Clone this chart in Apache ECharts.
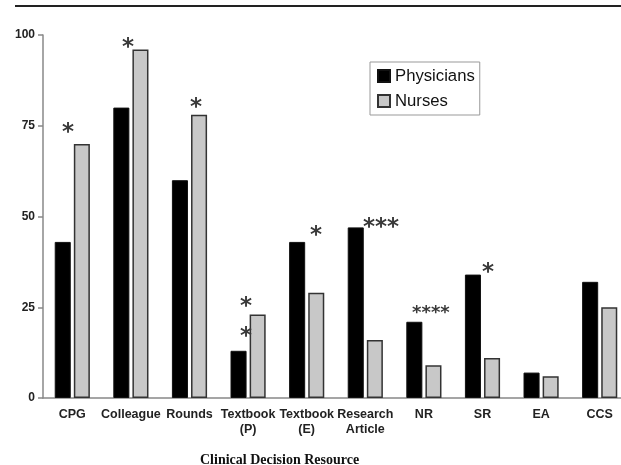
<!DOCTYPE html>
<html>
<head>
<meta charset="utf-8">
<script src="https://cdn.jsdelivr.net/npm/echarts@6/dist/echarts.min.js"></script>
<style>
html,body{margin:0;padding:0;background:#fff;}
#chart{width:621px;height:465px;}
</style>
</head>
<body>
<div id="chart"></div>
<script>
// ---- data ----
const categories = ['CPG', 'Colleague', 'Rounds', 'Textbook\n(P)', 'Textbook\n(E)', 'Research\nArticle', 'NR', 'SR', 'EA', 'CCS'];
const physicians = [43, 80, 60, 13, 43, 47, 21, 34, 7, 32];
const nurses     = [70, 96, 78, 23, 29, 16, 9, 11, 6, 25];
const physicianMarks = ['', '', '', '*', '*', '***', '****', '*', '', ''];
const nurseMarks     = ['*', '*', '*', '*', '', '', '', '', '', ''];
const yTicks = [0, 25, 50, 75, 100];

// ---- annotation placement (style) ----
const GLYPH_DY = 5;
const physMarkOffset = {3: [7.5, -18.8], 4: [18.8, -11], 5: [25.2, -4.4], 6: [16.6, -11.8], 7: [15, -6.6]};
const nurseMarkOffset = {0: [-13.8, -15.9], 1: [-12.5, -6.5], 2: [-3, -12], 3: [-11.6, -12.5]};
const markSize = {6: 18};

function buildData(values, marks, offsets) {
  return values.map((v, i) => {
    if (!marks[i]) return v;
    const off = offsets[i];
    const fs = markSize[i] || 23;
    return {
      value: v,
      label: {
        show: true,
        formatter: marks[i],
        position: 'top',
        distance: 0,
        offset: [off[0], off[1] + GLYPH_DY * fs / 24],
        verticalAlign: 'middle',
        align: 'center',
        fontFamily: 'DejaVu Sans',
        fontWeight: 'bold',
        fontSize: fs,
        color: '#3a3a3a'
      }
    };
  });
}

const chart = echarts.init(document.getElementById('chart'), null, {renderer: 'canvas'});
chart.setOption({
  animation: false,
  backgroundColor: '#fff',
  grid: {left: 43, top: 35, width: 586, height: 363, containLabel: false, outerBoundsMode: 'none'},
  legend: {
    orient: 'vertical',
    left: 370,
    top: 62,
    padding: [4, 5, 4, 7],
    itemGap: 5,
    itemWidth: 12,
    itemHeight: 12,
    itemTextGap: 6,
    icon: 'rect',
    borderColor: '#999',
    borderWidth: 1,
    textStyle: {fontFamily: 'Liberation Sans', fontSize: 16.7, color: '#111', lineHeight: 20},
    data: ['Physicians', 'Nurses']
  },
  title: {
    text: 'Clinical Decision Resource',
    left: 200,
    top: 453,
    padding: 0,
    textStyle: {fontFamily: 'Liberation Serif', fontWeight: 'bold', fontSize: 14, color: '#111'}
  },
  graphic: [{
    type: 'line',
    shape: {x1: 15, y1: 6, x2: 621, y2: 6},
    style: {stroke: '#222', lineWidth: 2}
  }],
  xAxis: {
    type: 'category',
    data: categories,
    axisLine: {show: true, lineStyle: {color: '#888', width: 1.5}},
    axisTick: {show: false},
    axisLabel: {
      interval: 0,
      margin: 9,
      fontFamily: 'Liberation Sans',
      fontWeight: 'bold',
      fontSize: 12.5,
      lineHeight: 15,
      color: '#222'
    },
    splitLine: {show: false}
  },
  yAxis: {
    type: 'value',
    min: 0,
    max: 100,
    interval: 25,
    axisLine: {show: true, lineStyle: {color: '#888', width: 1.5}},
    axisTick: {show: true, length: 5, lineStyle: {color: '#888', width: 1.5}},
    axisLabel: {
      margin: 8,
      fontFamily: 'Liberation Sans',
      fontWeight: 'bold',
      fontSize: 12,
      color: '#222',
      formatter: v => (yTicks.indexOf(v) >= 0 ? String(v) : '')
    },
    splitLine: {show: false}
  },
  series: [
    {
      name: 'Physicians',
      type: 'bar',
      barGap: '19%',
      barCategoryGap: '40%',
      itemStyle: {color: '#000', borderColor: '#111', borderWidth: 1},
      data: buildData(physicians, physicianMarks, physMarkOffset)
    },
    {
      name: 'Nurses',
      type: 'bar',
      barGap: '19%',
      barCategoryGap: '40%',
      itemStyle: {color: '#c8c8c8', borderColor: '#333', borderWidth: 1.5},
      data: buildData(nurses, nurseMarks, nurseMarkOffset)
    }
  ]
});
</script>
</body>
</html>
